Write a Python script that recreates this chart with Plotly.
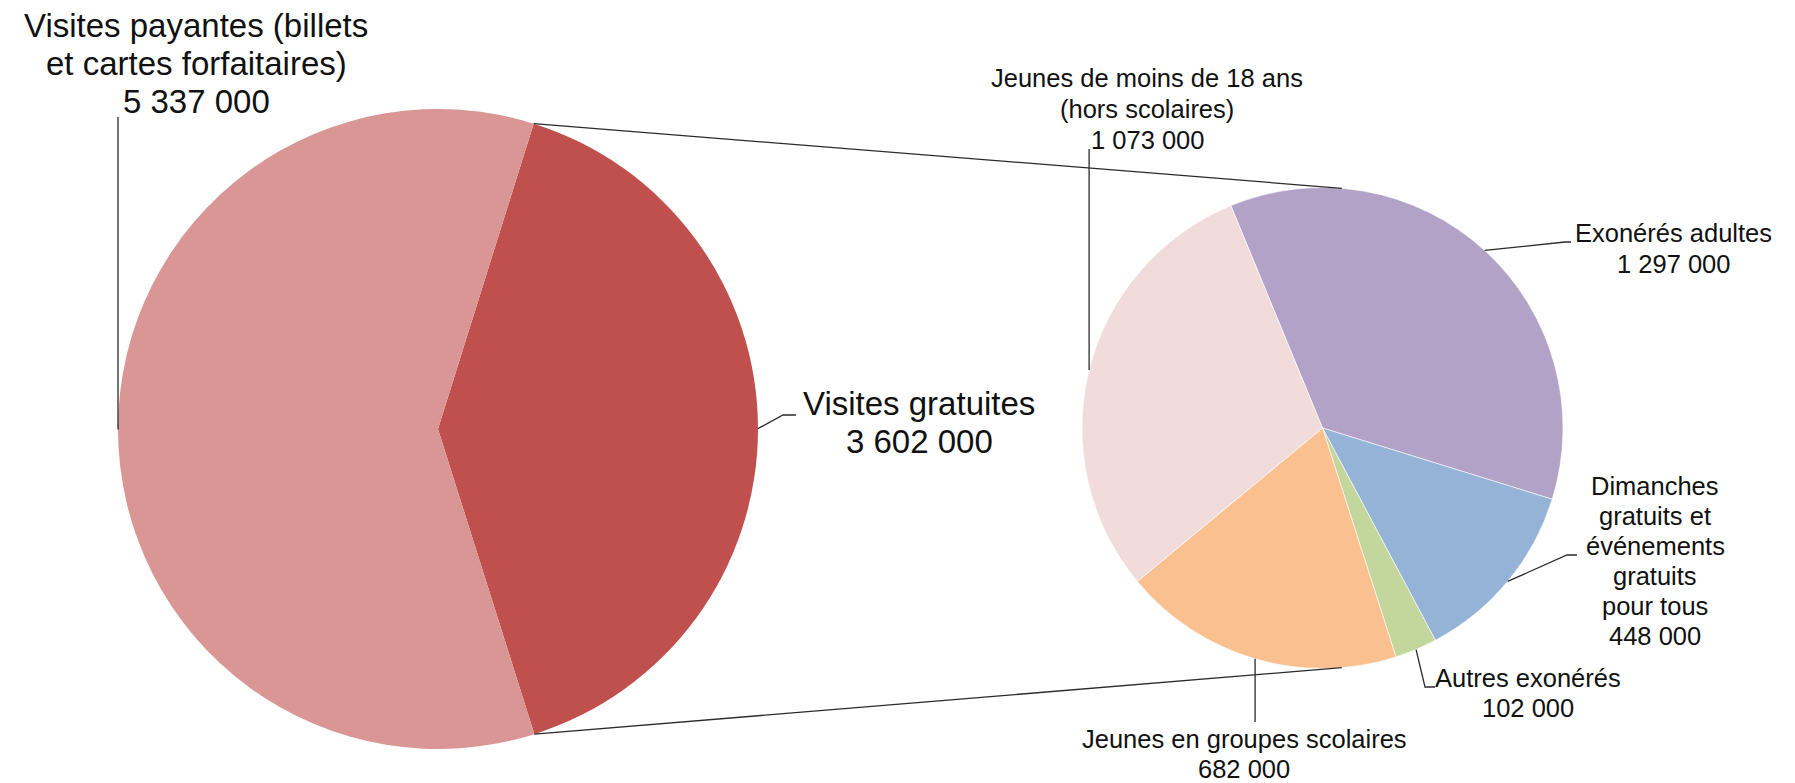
import math
import plotly.graph_objects as go

# ---------------- data ----------------
main_labels = ["Visites gratuites", "Visites payantes (billets et cartes forfaitaires)"]
main_values = [3602000, 5337000]
main_colors = ["#C0504D", "#D99694"]

sub_labels = ["Exonérés adultes",
              "Dimanches gratuits et événements gratuits pour tous",
              "Autres exonérés",
              "Jeunes en groupes scolaires",
              "Jeunes de moins de 18 ans (hors scolaires)"]
sub_values = [1297000, 448000, 102000, 682000, 1073000]
sub_colors = ["#B3A2C7", "#95B3D7", "#C3D69B", "#FAC090", "#F2DCDB"]

W, H = 1795, 783

# pie geometry (pixels)
big_c, big_r, big_rot = (438, 429), 320, 17.4
sub_c, sub_r, sub_rot = (1322.5, 428), 240.5, -22.4


def fmt(v):
    return f"{v:,}".replace(",", " ")


def px(x):
    return x / W


def py(y):
    return 1 - y / H


def edge(center, r, ang):
    a = math.radians(ang)
    return center[0] + r * math.sin(a), center[1] - r * math.cos(a)


def mid_angles(values, rot):
    tot = sum(values)
    out, cur = [], rot
    for v in values:
        span = v / tot * 360
        out.append(cur + span / 2)
        cur += span
    return out


fig = go.Figure()
fig.add_trace(go.Pie(
    labels=main_labels, values=main_values, sort=False, direction="clockwise",
    rotation=big_rot, textinfo="none", hoverinfo="label+value",
    marker=dict(colors=main_colors, line=dict(width=0)),
    domain=dict(x=[px(big_c[0] - big_r), px(big_c[0] + big_r)],
                y=[py(big_c[1] + big_r), py(big_c[1] - big_r)]),
    showlegend=False,
))
fig.add_trace(go.Pie(
    labels=sub_labels, values=sub_values, sort=False, direction="clockwise",
    rotation=sub_rot, textinfo="none", hoverinfo="label+value",
    marker=dict(colors=sub_colors, line=dict(width=1, color="rgba(255,255,255,0.6)")),
    domain=dict(x=[px(sub_c[0] - sub_r), px(sub_c[0] + sub_r)],
                y=[py(sub_c[1] + sub_r), py(sub_c[1] - sub_r)]),
    showlegend=False,
))

shapes = []
annotations = []
LINE = dict(color="#2a2a2a", width=1.3)


def polyline(points):
    path = "M " + " L ".join(f"{px(x)},{py(y)}" for x, y in points)
    shapes.append(dict(type="path", path=path, xref="paper", yref="paper", line=LINE))


def text_block(lines, cx, first_baseline, spacing, size):
    for i, t in enumerate(lines):
        b = first_baseline + i * spacing
        annotations.append(dict(
            text=t, x=px(cx), y=py(b - 0.35 * size), xref="paper", yref="paper",
            xanchor="center", yanchor="middle", showarrow=False,
            font=dict(family="Liberation Sans, Arial, sans-serif", size=size, color="#111111"),
        ))


# connector lines between the pies
tot_main = sum(main_values)
free_span = main_values[0] / tot_main * 360
p1 = edge(big_c, big_r, big_rot)
p2 = edge(big_c, big_r, big_rot + free_span)
q1 = edge(sub_c, sub_r, 4.6)
q2 = edge(sub_c, sub_r, 175.4)
polyline([p1, q1])
polyline([p2, q2])

# main pie labels
bm = mid_angles(main_values, big_rot)
e_free = edge(big_c, big_r, bm[0])
e_pay = edge(big_c, big_r, bm[1])
polyline([e_free, (783, 415), (796, 415)])
polyline([e_pay, (e_pay[0], 117)])

BIG = 33
SMALL = 25.5
text_block(["Visites payantes (billets", "et cartes forfaitaires)", fmt(main_values[1])],
           196, 37, 38, BIG)
text_block(["Visites gratuites", fmt(main_values[0])], 919, 415, 38, BIG)

# sub pie labels
sm = mid_angles(sub_values, sub_rot)
e = [edge(sub_c, sub_r, a) for a in sm]
polyline([e[0], (1565, 242), (1571, 242)])
polyline([e[1], (1567, 555), (1577, 555)])
polyline([e[2], (1425, 687), (1435, 687)])
polyline([e[3], (e[3][0], 722)])
polyline([e[4], (e[4][0], 149)])

text_block(["Exonérés adultes", fmt(sub_values[0])], 1673, 242, 31, SMALL)
text_block(["Dimanches", "gratuits et", "événements", "gratuits", "pour tous", fmt(sub_values[1])],
           1655, 495, 30, SMALL)
text_block(["Autres exonérés", fmt(sub_values[2])], 1528, 687, 30, SMALL)
text_block(["Jeunes en groupes scolaires", fmt(sub_values[3])], 1244, 748, 30, SMALL)
text_block(["Jeunes de moins de 18 ans", "(hors scolaires)", fmt(sub_values[4])],
           1147, 87, 31, SMALL)

fig.update_layout(
    width=W, height=H, margin=dict(l=0, r=0, t=0, b=0),
    paper_bgcolor="white", plot_bgcolor="white",
    shapes=shapes, annotations=annotations,
)

fig.write_html("out.html", config={"displayModeBar": False},
               post_script="document.body.style.margin='0';document.body.style.overflow='hidden';")
